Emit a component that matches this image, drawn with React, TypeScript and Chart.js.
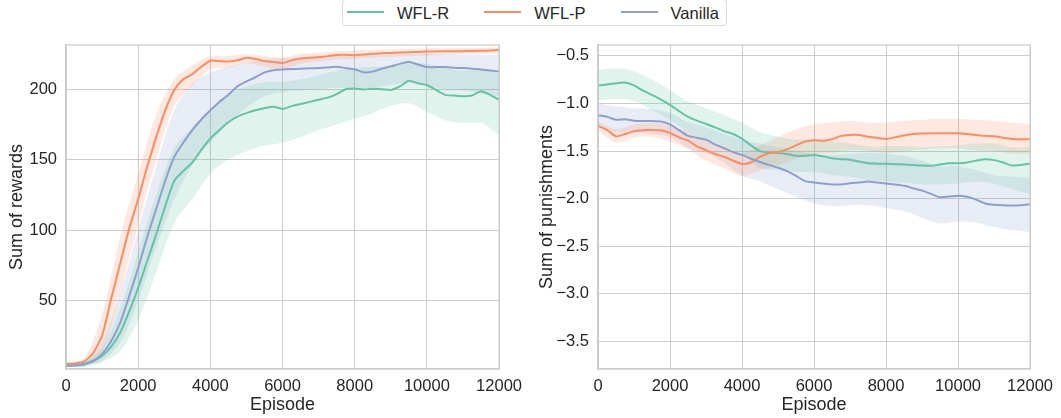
import React, { useEffect, useRef } from "react";
import { Chart, registerables } from "chart.js";

Chart.register(...registerables);

const FONT = "'Liberation Sans', Arial, Helvetica, sans-serif";
const TEXT = "#262626";
const GRID = "#cccccc";

const SERIES_NAMES = ["WFL-R", "WFL-P", "Vanilla"];
const COLORS = ["#66c2a5", "#fc8d62", "#8da0cb"];

const X_TICKS = [0, 2000, 4000, 6000, 8000, 10000, 12000];
const REWARD_TICKS = [50, 100, 150, 200];
const PUNISH_TICKS = [-3.5, -3.0, -2.5, -2.0, -1.5, -1.0, -0.5];

const EPISODES = [
  0, 250, 500, 750, 1000, 1250, 1500, 1750, 2000, 2250, 2500, 2750, 3000, 3250, 3500, 3750,
  4000, 4250, 4500, 4750, 5000, 5250, 5500, 5750, 6000, 6250, 6500, 6750, 7000, 7250, 7500, 7750,
  8000, 8250, 8500, 8750, 9000, 9250, 9500, 9750, 10000, 10250, 10500, 10750, 11000, 11250, 11500,
  11750, 12000,
];
const BAND_EPISODES = [
  0, 500, 1000, 1500, 2000, 2500, 3000, 3500, 4000, 4500, 5000, 5500, 6000, 6500, 7000, 7500,
  8000, 8500, 9000, 9500, 10000, 10500, 11000, 11500, 12000,
];

// ---- Sum of rewards (left) ----
const REWARD_WFL_R = [
  3.5, 3.8, 4.3, 6.7, 10.5, 17, 27, 42, 59, 78, 97, 117, 135, 142, 148, 157, 165, 171, 176.5,
  180.5, 183, 185, 186.5, 187.5, 186, 188, 189.5, 191, 192.5, 194, 196.5, 200, 200.5, 199.8,
  200.3, 200, 199.5, 202, 206, 204.2, 203, 199.5, 196, 195.5, 195, 195.5, 198.5, 196, 192.5,
];
const REWARD_WFL_P = [
  4.9, 5.3, 6.7, 12.5, 25, 51, 76, 101, 122, 145, 166, 185, 199.5, 207, 210.6, 216, 220.2, 220,
  219.7, 220.5, 222.3, 221.5, 220, 219.3, 218.6, 220.5, 221.8, 222.3, 222.8, 223.5, 224.3, 224.4,
  224.2, 224.6, 225.2, 225.5, 225.8, 226, 226.3, 226.5, 226.7, 226.8, 227, 227, 227, 227.2, 227.3,
  227.5, 227.8,
];
const REWARD_VANILLA = [
  3.7, 4, 5, 7.2, 12, 21, 34, 53, 73, 95, 115, 135, 152, 162, 171, 178.5, 185, 191, 196, 202,
  205.5, 208.5, 212, 213.5, 214, 214.3, 214.5, 214.8, 215, 215.5, 216, 215, 214.2, 212, 212.5,
  214.5, 216.2, 218, 219.5, 217.5, 215.7, 215.7, 215.7, 215.3, 215, 214.6, 214, 213.3, 212.5,
];
const REWARD_WFL_R_UPPER = [
  4.5, 6, 16, 44, 84, 125, 158, 173, 186, 196, 202, 205, 205, 207, 210, 213, 215, 216, 216, 219,
  218, 215, 213, 214, 211,
];
const REWARD_WFL_R_LOWER = [
  2.5, 3, 6, 14, 36, 70, 105, 122, 140, 150, 156, 160, 162, 166, 171, 175, 179, 183, 188, 190,
  184, 178, 176, 176, 168,
];
const REWARD_WFL_P_UPPER = [
  6, 9, 40, 95, 140, 182, 207, 217, 223, 223.5, 225, 223.5, 222.5, 225, 226, 227, 227.5, 228,
  228.3, 228.6, 229, 229, 229.2, 229.3, 229.6,
];
const REWARD_WFL_P_LOWER = [
  4, 5, 14, 55, 104, 150, 188, 203, 214, 215.5, 218.5, 216, 214, 218, 220, 221, 221.5, 222.5, 223,
  223.5, 224, 224.5, 224.8, 225, 225.5,
];
const REWARD_VANILLA_UPPER = [
  4.5, 6.5, 20, 55, 100, 145, 185, 204, 212, 216, 219, 221, 222, 222.5, 223, 223.5, 224, 224,
  224.5, 225, 225, 224.5, 224.5, 224.5, 224.5,
];
const REWARD_VANILLA_LOWER = [
  3, 4, 7, 20, 50, 88, 122, 146, 162, 176, 187, 195, 198, 199, 200, 201, 201, 201, 203, 205, 202,
  200, 199, 197, 195,
];

// ---- Sum of punishments (right) ----
const PUNISH_WFL_R = [
  -0.81, -0.8, -0.787, -0.78, -0.81, -0.865, -0.91, -0.96, -1.015, -1.08, -1.14, -1.18, -1.215,
  -1.25, -1.29, -1.32, -1.37, -1.44, -1.5, -1.515, -1.52, -1.53, -1.55, -1.55, -1.54, -1.555,
  -1.575, -1.585, -1.59, -1.61, -1.628, -1.632, -1.634, -1.638, -1.64, -1.645, -1.652, -1.655,
  -1.64, -1.627, -1.627, -1.62, -1.6, -1.585, -1.595, -1.62, -1.652, -1.645, -1.634,
];
const PUNISH_WFL_P = [
  -1.235, -1.277, -1.345, -1.32, -1.29, -1.28, -1.277, -1.282, -1.31, -1.355, -1.39, -1.45, -1.49,
  -1.53, -1.56, -1.6, -1.635, -1.62, -1.56, -1.522, -1.51, -1.48, -1.44, -1.4, -1.385, -1.39,
  -1.375, -1.34, -1.33, -1.33, -1.35, -1.36, -1.372, -1.355, -1.335, -1.32, -1.315, -1.313,
  -1.312, -1.312, -1.312, -1.32, -1.33, -1.34, -1.345, -1.36, -1.372, -1.375, -1.375,
];
const PUNISH_VANILLA = [
  -1.123, -1.14, -1.17, -1.165, -1.18, -1.183, -1.183, -1.19, -1.22, -1.28, -1.34, -1.36, -1.38,
  -1.43, -1.47, -1.51, -1.54, -1.58, -1.615, -1.645, -1.675, -1.71, -1.76, -1.815, -1.83, -1.84,
  -1.85, -1.85, -1.838, -1.83, -1.82, -1.83, -1.84, -1.852, -1.865, -1.89, -1.915, -1.95, -1.985,
  -1.978, -1.97, -1.98, -2.01, -2.05, -2.065, -2.07, -2.072, -2.068, -2.06,
];
const PUNISH_WFL_R_UPPER = [
  -0.65, -0.63, -0.66, -0.75, -0.86, -0.98, -1.05, -1.12, -1.2, -1.3, -1.35, -1.38, -1.38, -1.4,
  -1.42, -1.45, -1.45, -1.45, -1.46, -1.45, -1.44, -1.42, -1.42, -1.46, -1.46,
];
const PUNISH_WFL_R_LOWER = [
  -0.97, -0.95, -0.97, -1.07, -1.17, -1.3, -1.37, -1.45, -1.53, -1.68, -1.7, -1.72, -1.72, -1.75,
  -1.77, -1.8, -1.82, -1.83, -1.85, -1.85, -1.84, -1.82, -1.84, -1.9, -1.95,
];
const PUNISH_WFL_P_UPPER = [
  -1.19, -1.27, -1.22, -1.21, -1.23, -1.3, -1.38, -1.45, -1.52, -1.44, -1.35, -1.27, -1.22, -1.2,
  -1.18, -1.2, -1.2, -1.18, -1.17, -1.16, -1.16, -1.17, -1.18, -1.2, -1.22,
];
const PUNISH_WFL_P_LOWER = [
  -1.29, -1.41, -1.36, -1.35, -1.4, -1.48, -1.6, -1.68, -1.76, -1.7, -1.65, -1.58, -1.53, -1.52,
  -1.49, -1.5, -1.52, -1.5, -1.48, -1.47, -1.47, -1.49, -1.5, -1.53, -1.53,
];
const PUNISH_VANILLA_UPPER = [
  -1.0, -1.03, -1.05, -1.06, -1.1, -1.2, -1.25, -1.32, -1.38, -1.42, -1.46, -1.5, -1.53, -1.54,
  -1.53, -1.52, -1.53, -1.55, -1.6, -1.66, -1.66, -1.7, -1.75, -1.77, -1.78,
];
const PUNISH_VANILLA_LOWER = [
  -1.25, -1.3, -1.3, -1.32, -1.35, -1.47, -1.52, -1.62, -1.76, -1.82, -1.9, -1.98, -2.05, -2.08,
  -2.07, -2.07, -2.1, -2.13, -2.2, -2.26, -2.24, -2.25, -2.3, -2.33, -2.35,
];

function withAlpha(hex: string, a: number) {
  const n = parseInt(hex.slice(1), 16);
  return `rgba(${n >> 16},${(n >> 8) & 255},${n & 255},${a})`;
}

const framePlugin = {
  id: "frame",
  afterDatasetsDraw(chart: any) {
    const { ctx, chartArea: a } = chart;
    ctx.save();
    ctx.strokeStyle = GRID;
    ctx.lineWidth = 1.25;
    ctx.strokeRect(a.left, a.top, a.right - a.left, a.bottom - a.top);
    ctx.restore();
  },
};

type PanelSpec = {
  means: number[][];
  uppers: number[][];
  lowers: number[][];
  yMin: number;
  yMax: number;
  yTicks: number[];
  yTitle: string;
  axisWidth: number;
  fmt: (v: number) => string;
};

function buildConfig(p: PanelSpec): any {
  const lineSets = SERIES_NAMES.map((name, i) => ({
    label: name,
    data: EPISODES.map((x, j) => ({ x, y: p.means[i][j] })),
    borderColor: COLORS[i],
    backgroundColor: COLORS[i],
    borderWidth: 2,
    pointRadius: 0,
    fill: false,
    tension: 0.2,
  })).reverse();
  const bandSets: any[] = [];
  SERIES_NAMES.forEach((name, i) => {
    bandSets.push({
      label: name + " upper",
      data: BAND_EPISODES.map((x, j) => ({ x, y: p.uppers[i][j] })),
      borderColor: "rgba(0,0,0,0)",
      borderWidth: 0,
      pointRadius: 0,
      fill: false,
      tension: 0.3,
    });
    bandSets.push({
      label: name + " lower",
      data: BAND_EPISODES.map((x, j) => ({ x, y: p.lowers[i][j] })),
      borderColor: "rgba(0,0,0,0)",
      backgroundColor: withAlpha(COLORS[i], 0.2),
      borderWidth: 0,
      pointRadius: 0,
      fill: "-1",
      tension: 0.3,
    });
  });
  return {
    type: "line",
    data: { datasets: [...lineSets, ...bandSets] },
    options: {
      responsive: false,
      animation: false,
      events: [],
      layout: { padding: { top: 45, right: 28, left: 0, bottom: 0 } },
      plugins: { legend: { display: false }, tooltip: { enabled: false } },
      scales: {
        x: {
          type: "linear",
          min: 0,
          max: 12000,
          afterBuildTicks: (s: any) => {
            s.ticks = X_TICKS.map((v) => ({ value: v }));
          },
          afterFit: (s: any) => {
            s.height = 49;
          },
          ticks: {
            font: { family: FONT, size: 16.5 },
            color: TEXT,
            padding: 8,
            maxRotation: 0,
            autoSkip: false,
            callback: (v: any) => String(v),
          },
          grid: { color: GRID, lineWidth: 1, drawTicks: false },
          border: { color: GRID, width: 1.25 },
          title: {
            display: true,
            text: "Episode",
            font: { family: FONT, size: 18 },
            color: TEXT,
            padding: { top: 0, bottom: 2 },
          },
        },
        y: {
          type: "linear",
          min: p.yMin,
          max: p.yMax,
          afterBuildTicks: (s: any) => {
            s.ticks = p.yTicks.map((v) => ({ value: v }));
          },
          afterFit: (s: any) => {
            s.width = p.axisWidth;
          },
          ticks: {
            font: { family: FONT, size: 16.5 },
            color: TEXT,
            padding: 9,
            autoSkip: false,
            callback: (v: any) => p.fmt(Number(v)),
          },
          grid: { color: GRID, lineWidth: 1, drawTicks: false },
          border: { color: GRID, width: 1.25 },
          title: {
            display: true,
            text: p.yTitle,
            font: { family: FONT, size: 18 },
            color: TEXT,
            padding: { top: 6, bottom: 0 },
          },
        },
      },
    },
    plugins: [framePlugin],
  };
}

const REWARD_SPEC: PanelSpec = {
  means: [REWARD_WFL_R, REWARD_WFL_P, REWARD_VANILLA],
  uppers: [REWARD_WFL_R_UPPER, REWARD_WFL_P_UPPER, REWARD_VANILLA_UPPER],
  lowers: [REWARD_WFL_R_LOWER, REWARD_WFL_P_LOWER, REWARD_VANILLA_LOWER],
  yMin: 1.3,
  yMax: 231.4,
  yTicks: REWARD_TICKS,
  yTitle: "Sum of rewards",
  axisWidth: 66,
  fmt: (v) => String(v),
};

const PUNISH_SPEC: PanelSpec = {
  means: [PUNISH_WFL_R, PUNISH_WFL_P, PUNISH_VANILLA],
  uppers: [PUNISH_WFL_R_UPPER, PUNISH_WFL_P_UPPER, PUNISH_VANILLA_UPPER],
  lowers: [PUNISH_WFL_R_LOWER, PUNISH_WFL_P_LOWER, PUNISH_VANILLA_LOWER],
  yMin: -3.79,
  yMax: -0.385,
  yTicks: PUNISH_TICKS,
  yTitle: "Sum of punishments",
  axisWidth: 68,
  fmt: (v) => (v < 0 ? "\u2212" + Math.abs(v).toFixed(1) : v.toFixed(1)),
};

function Panel({ spec, left, width }: { spec: PanelSpec; left: number; width: number }) {
  const ref = useRef<HTMLCanvasElement>(null);
  useEffect(() => {
    const chart = new Chart(ref.current as HTMLCanvasElement, buildConfig(spec));
    return () => chart.destroy();
  }, [spec]);
  return (
    <canvas
      ref={ref}
      width={width}
      height={418}
      style={{ position: "absolute", left, top: 0, width, height: 418, display: "block" }}
    />
  );
}

function Legend() {
  return (
    <div
      style={{
        position: "absolute",
        left: 342,
        top: -1,
        height: 27,
        boxSizing: "border-box",
        border: "1px solid #d9d9d9",
        borderRadius: 4,
        background: "#ffffff",
        display: "flex",
        alignItems: "center",
        padding: "0 7px 0 4px",
        gap: 35,
        fontFamily: FONT,
        fontSize: 16.5,
        color: TEXT,
        zIndex: 2,
      }}
    >
      {SERIES_NAMES.map((name, i) => (
        <div key={name} style={{ display: "flex", alignItems: "center" }}>
          <div style={{ width: 37, height: 2, background: COLORS[i], marginRight: 13, marginTop: -1 }} />
          <span style={{ lineHeight: "20px", whiteSpace: "nowrap" }}>{name}</span>
        </div>
      ))}
    </div>
  );
}

export default function App() {
  return (
    <div
      style={{
        position: "absolute",
        left: 0,
        top: 0,
        width: 1061,
        height: 418,
        overflow: "hidden",
        background: "#ffffff",
      }}
    >
      <Panel spec={REWARD_SPEC} left={0} width={530} />
      <Panel spec={PUNISH_SPEC} left={530} width={531} />
      <Legend />
    </div>
  );
}
